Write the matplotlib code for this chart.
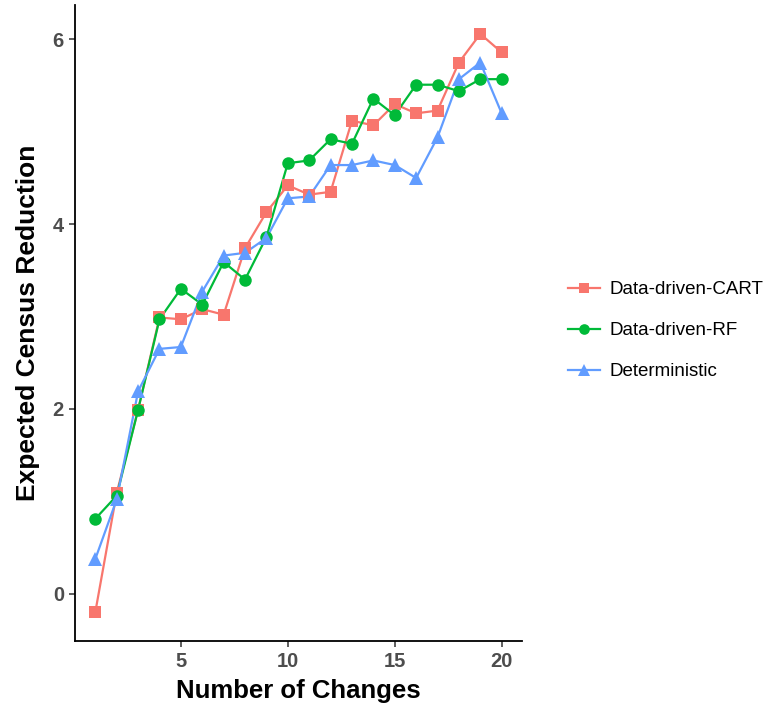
import numpy as np
import matplotlib
matplotlib.use('Agg')
import matplotlib.pyplot as plt
from matplotlib.lines import Line2D

# 데이터
changes = list(range(1, 21))
cart = [-0.20, 1.09, 1.99, 2.99, 2.97, 3.08, 3.02, 3.74, 4.13, 4.42,
        4.32, 4.35, 5.12, 5.07, 5.30, 5.20, 5.23, 5.75, 6.06, 5.86]
rf = [0.81, 1.06, 1.99, 2.97, 3.30, 3.13, 3.59, 3.40, 3.86, 4.66,
      4.69, 4.92, 4.87, 5.36, 5.18, 5.51, 5.51, 5.44, 5.57, 5.57]
det = [0.375, 1.02, 2.19, 2.65, 2.67, 3.27, 3.66, 3.69, 3.85, 4.28,
       4.30, 4.64, 4.64, 4.69, 4.64, 4.50, 4.94, 5.57, 5.75, 5.20]

labels = ['Data-driven-CART', 'Data-driven-RF', 'Deterministic']
colors = ['#F8766D', '#00BA38', '#619CFF']
markers = ['s', 'o', '^']
sizes = [9, 9, 10]
series = [cart, rf, det]

plt.rcParams['font.family'] = ['Liberation Sans', 'DejaVu Sans']

fig = plt.figure(figsize=(7.81, 7.11), dpi=100)
ax = fig.add_axes([75 / 781, 70 / 711, 447 / 781, 636 / 711])

# ggplot처럼 선 먼저, 점은 나중에
for y, c in zip(series, colors):
    ax.plot(changes, y, color=c, lw=1.6, zorder=2)
for y, c, m, s in zip(series, colors, markers, sizes):
    ax.plot(changes, y, ls='none', marker=m, ms=s, color=c,
            markeredgewidth=0, zorder=3)

ax.set_xlim(0.05, 20.95)
ax.set_ylim(-0.513, 6.373)
ax.set_xticks([5, 10, 15, 20])
ax.set_yticks([0, 2, 4, 6])

for side in ['top', 'right']:
    ax.spines[side].set_visible(False)
for side in ['left', 'bottom']:
    ax.spines[side].set_linewidth(1.3)
    ax.spines[side].set_color('black')

ax.tick_params(axis='both', length=4, width=1.1, color='#333333',
               labelsize=14.5, labelcolor='#4D4D4D', pad=4)
for lab in ax.get_xticklabels() + ax.get_yticklabels():
    lab.set_fontweight('bold')

ax.set_xlabel('Number of Changes', fontsize=18.5, fontweight='bold', labelpad=6)
ax.set_ylabel('Expected Census Reduction', fontsize=19, fontweight='bold', labelpad=9)

handles = [Line2D([], [], color=c, marker=m, ms=s * 0.85, lw=1.6, markeredgewidth=0)
           for c, m, s in zip(colors, markers, sizes)]
fig.legend(handles, labels, loc='center left', bbox_to_anchor=(568 / 781, 0.535),
           frameon=False, fontsize=13.5, handlelength=1.7, handletextpad=0.5,
           labelspacing=1.27, borderpad=0, borderaxespad=0)

fig.savefig('out.png', dpi=100)
